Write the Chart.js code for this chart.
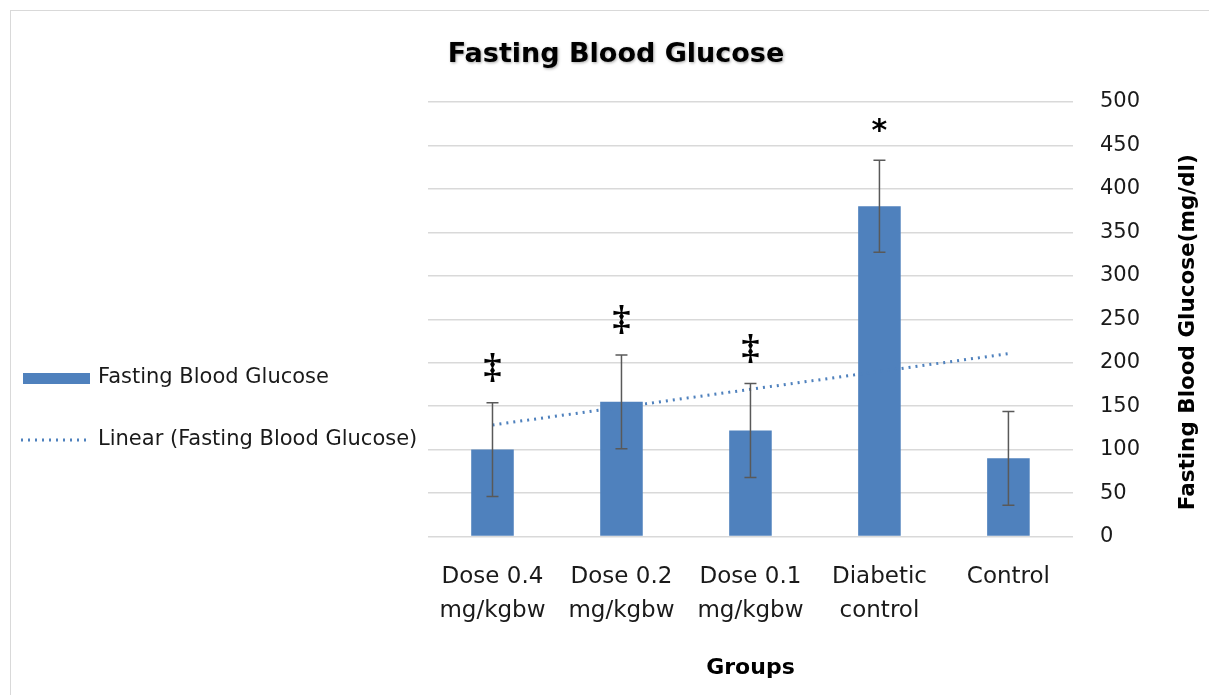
<!DOCTYPE html>
<html>
<head>
<meta charset="utf-8">
<script src="https://cdn.jsdelivr.net/npm/chart.js@4.4.1/dist/chart.umd.min.js"></script>
<style>
  html, body { margin: 0; padding: 0; background: #fff; }
  #wrap { position: relative; width: 1209px; height: 695px; overflow: hidden; }
  #frame { position: absolute; left: 10px; top: 10px; width: 1198px; height: 690px;
           border-left: 1px solid #d9d9d9; border-top: 1px solid #d9d9d9; }
  canvas { position: absolute; left: 0; top: 0; }
</style>
</head>
<body>
<div id="wrap">
  <div id="frame"></div>
  <canvas id="chart" width="1209" height="695"></canvas>
</div>
<script>
// data
const groups = [['Dose 0.4', 'mg/kgbw'], ['Dose 0.2', 'mg/kgbw'], ['Dose 0.1', 'mg/kgbw'], ['Diabetic', 'control'], ['Control']];
const glucose = [100, 155, 122, 380, 90];
const errors = [54, 54, 54, 53, 54];
const marks = ['‡', '‡', '‡', '*', ''];
const yTicks = [0, 50, 100, 150, 200, 250, 300, 350, 400, 450, 500];

const chartTitle = 'Fasting Blood Glucose';
const yTitle = 'Fasting Blood Glucose(mg/dl)';
const barColor = '#4f81bd';
const fontFamily = "'DejaVu Sans', sans-serif";

// Excel style linear trendline (least squares over the category index)
function linearTrend(values) {
  const n = values.length;
  const mx = (n - 1) / 2;
  const my = values.reduce((a, b) => a + b, 0) / n;
  let num = 0, den = 0;
  values.forEach((v, i) => { num += (i - mx) * (v - my); den += (i - mx) * (i - mx); });
  const slope = num / den;
  return values.map((_, i) => my + slope * (i - mx));
}

const errorBars = {
  id: 'errorBars',
  afterDatasetsDraw(chart) {
    const ctx = chart.ctx;
    const x = chart.scales.x, y = chart.scales.y;
    ctx.save();
    ctx.strokeStyle = '#595959';
    ctx.lineWidth = 1.5;
    glucose.forEach((v, i) => {
      const px = x.getPixelForValue(i);
      const top = y.getPixelForValue(v + errors[i]);
      const bot = y.getPixelForValue(v - errors[i]);
      ctx.beginPath();
      ctx.moveTo(px, top); ctx.lineTo(px, bot);
      ctx.moveTo(px - 6, top); ctx.lineTo(px + 6, top);
      ctx.moveTo(px - 6, bot); ctx.lineTo(px + 6, bot);
      ctx.stroke();
      // significance marks
      if (marks[i]) {
        ctx.fillStyle = '#000';
        ctx.textAlign = 'center';
        ctx.textBaseline = 'middle';
        ctx.font = marks[i] === '*' ? "bold 30px 'DejaVu Sans'" : "bold 36px 'Liberation Serif'";
        ctx.fillText(marks[i], px, top - (marks[i] === '*' ? 28 : 34));
      }
    });
    ctx.restore();
  }
};

// title, rotated right-hand axis title and the side legend
const decorations = {
  id: 'decorations',
  afterDraw(chart) {
    const ctx = chart.ctx;
    const area = chart.chartArea;
    ctx.save();
    ctx.textBaseline = 'middle';

    ctx.save();
    ctx.shadowColor = 'rgba(0,0,0,0.35)';
    ctx.shadowBlur = 3;
    ctx.shadowOffsetX = 1;
    ctx.shadowOffsetY = 1;
    ctx.fillStyle = '#000';
    ctx.textAlign = 'center';
    ctx.font = 'bold 27px ' + fontFamily;
    ctx.fillText(chartTitle, 616, 55);
    ctx.restore();

    ctx.save();
    ctx.translate(1188, (area.top + area.bottom) / 2 + 13);
    ctx.rotate(-Math.PI / 2);
    ctx.fillStyle = '#000';
    ctx.textAlign = 'center';
    ctx.font = 'bold 21.5px ' + fontFamily;
    ctx.fillText(yTitle, 0, 0);
    ctx.restore();

    ctx.font = '21px ' + fontFamily;
    ctx.textAlign = 'left';
    ctx.fillStyle = barColor;
    ctx.fillRect(23, 373, 67, 11);
    ctx.fillStyle = '#1a1a1a';
    ctx.fillText(chart.data.datasets[0].label, 98, 378);
    ctx.strokeStyle = barColor;
    ctx.lineWidth = 3;
    ctx.setLineDash([2, 5]);
    ctx.beginPath();
    ctx.moveTo(21, 440); ctx.lineTo(90, 440);
    ctx.stroke();
    ctx.fillText(chart.data.datasets[1].label, 98, 440);
    ctx.restore();
  }
};

new Chart(document.getElementById('chart'), {
  type: 'bar',
  data: {
    labels: groups,
    datasets: [
      {
        label: 'Fasting Blood Glucose',
        data: glucose,
        backgroundColor: barColor,
        borderWidth: 0,
        barPercentage: 0.33,
        categoryPercentage: 1,
        order: 2
      },
      {
        type: 'line',
        label: 'Linear (Fasting Blood Glucose)',
        data: linearTrend(glucose),
        borderColor: barColor,
        borderWidth: 3,
        borderDash: [2, 5],
        pointRadius: 0,
        fill: false,
        order: 1
      }
    ]
  },
  options: {
    responsive: false,
    animation: false,
    layout: { padding: { left: 428, right: 42, top: 102, bottom: 0 } },
    plugins: {
      legend: { display: false },
      tooltip: { enabled: false },
      title: { display: false }
    },
    scales: {
      x: {
        grid: { display: false, drawTicks: false },
        border: { display: false },
        ticks: {
          color: '#1a1a1a',
          font: { family: fontFamily, size: 23, lineHeight: 1.48 },
          padding: 23,
          maxRotation: 0,
          autoSkip: false
        },
        title: {
          display: true,
          text: 'Groups',
          color: '#000',
          font: { family: fontFamily, size: 22, weight: 'bold' },
          padding: { top: 4, bottom: 14 }
        }
      },
      y: {
        position: 'right',
        min: 0,
        max: 500,
        afterBuildTicks(axis) { axis.ticks = yTicks.map(v => ({ value: v })); },
        grid: { color: '#d9d9d9', lineWidth: 1.5, drawTicks: false },
        border: { display: false },
        ticks: {
          color: '#1a1a1a',
          font: { family: fontFamily, size: 21 },
          padding: 27
        }
      }
    }
  },
  plugins: [errorBars, decorations]
});
</script>
</body>
</html>
